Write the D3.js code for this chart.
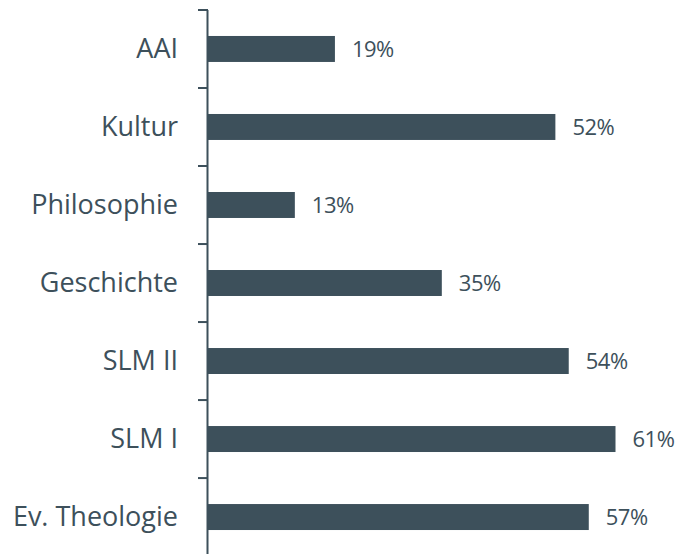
<!DOCTYPE html>
<html>
<head>
<meta charset="utf-8">
<script src="https://cdn.jsdelivr.net/npm/d3@7"></script>
<style>
  body { margin: 0; background: #fff; }
</style>
</head>
<body>
<script>
// categories and shares
const categories = ['AAI', 'Kultur', 'Philosophie', 'Geschichte', 'SLM II', 'SLM I', 'Ev. Theologie'];
const values = [19, 52, 13, 35, 54, 61, 57];

const width = 679;
const height = 554;
const margin = ({top: 10, right: 0, bottom: 0, left: 208});
const barColor = '#3d505b';
const textColor = '#3d505b';

const data = categories.map((c, i) => ({name: c, value: values[i]}));

// x: percent -> pixels
const xScale = d3.scaleLinear()
                 .domain([0, 61])
                 .range([margin.left, 615.5]);

// y: one band per category
const yScale = d3.scaleBand()
                 .domain(categories)
                 .range([margin.top, margin.top + 78 * categories.length])
                 .paddingInner(0.667)
                 .paddingOuter(0.333);

const svg = d3.select('body')
              .append('svg')
              .attr('width', width)
              .attr('height', height);

// bars
svg.append('g')
   .selectAll('rect')
   .data(data)
   .join('rect')
   .attr('x', xScale(0))
   .attr('y', d => yScale(d.name))
   .attr('width', d => xScale(d.value) - xScale(0))
   .attr('height', yScale.bandwidth())
   .attr('fill', barColor);

// value labels
svg.append('g')
   .selectAll('text')
   .data(data)
   .join('text')
   .attr('x', d => xScale(d.value) + 17)
   .attr('y', d => yScale(d.name) + yScale.bandwidth() / 2)
   .attr('dy', '0.36em')
   .attr('font-family', 'Open Sans')
   .attr('font-size', 22)
   .attr('letter-spacing', -0.5)
   .attr('fill', textColor)
   .text(d => d.value + '%');

// Y axis with ticks on band boundaries
const yAxis = d3.axisLeft(yScale).tickSize(0).tickPadding(30);

const gy = svg.append('g')
   .attr('transform', `translate(${margin.left},0)`)
   .call(yAxis);

gy.select('.domain').remove();
gy.selectAll('text')
  .attr('font-family', 'Open Sans')
  .attr('font-size', 27)
  .attr('fill', textColor);

// axis line and separator ticks
const boundaries = d3.range(categories.length + 1).map(i => margin.top + i * yScale.step());

svg.append('line')
   .attr('x1', margin.left - 0.5)
   .attr('x2', margin.left - 0.5)
   .attr('y1', margin.top)
   .attr('y2', boundaries[boundaries.length - 1])
   .attr('stroke', barColor)
   .attr('stroke-width', 2);

svg.append('g')
   .selectAll('line')
   .data(boundaries)
   .join('line')
   .attr('x1', margin.left - 10)
   .attr('x2', margin.left)
   .attr('y1', d => d)
   .attr('y2', d => d)
   .attr('stroke', barColor)
   .attr('stroke-width', 2);
</script>
</body>
</html>
